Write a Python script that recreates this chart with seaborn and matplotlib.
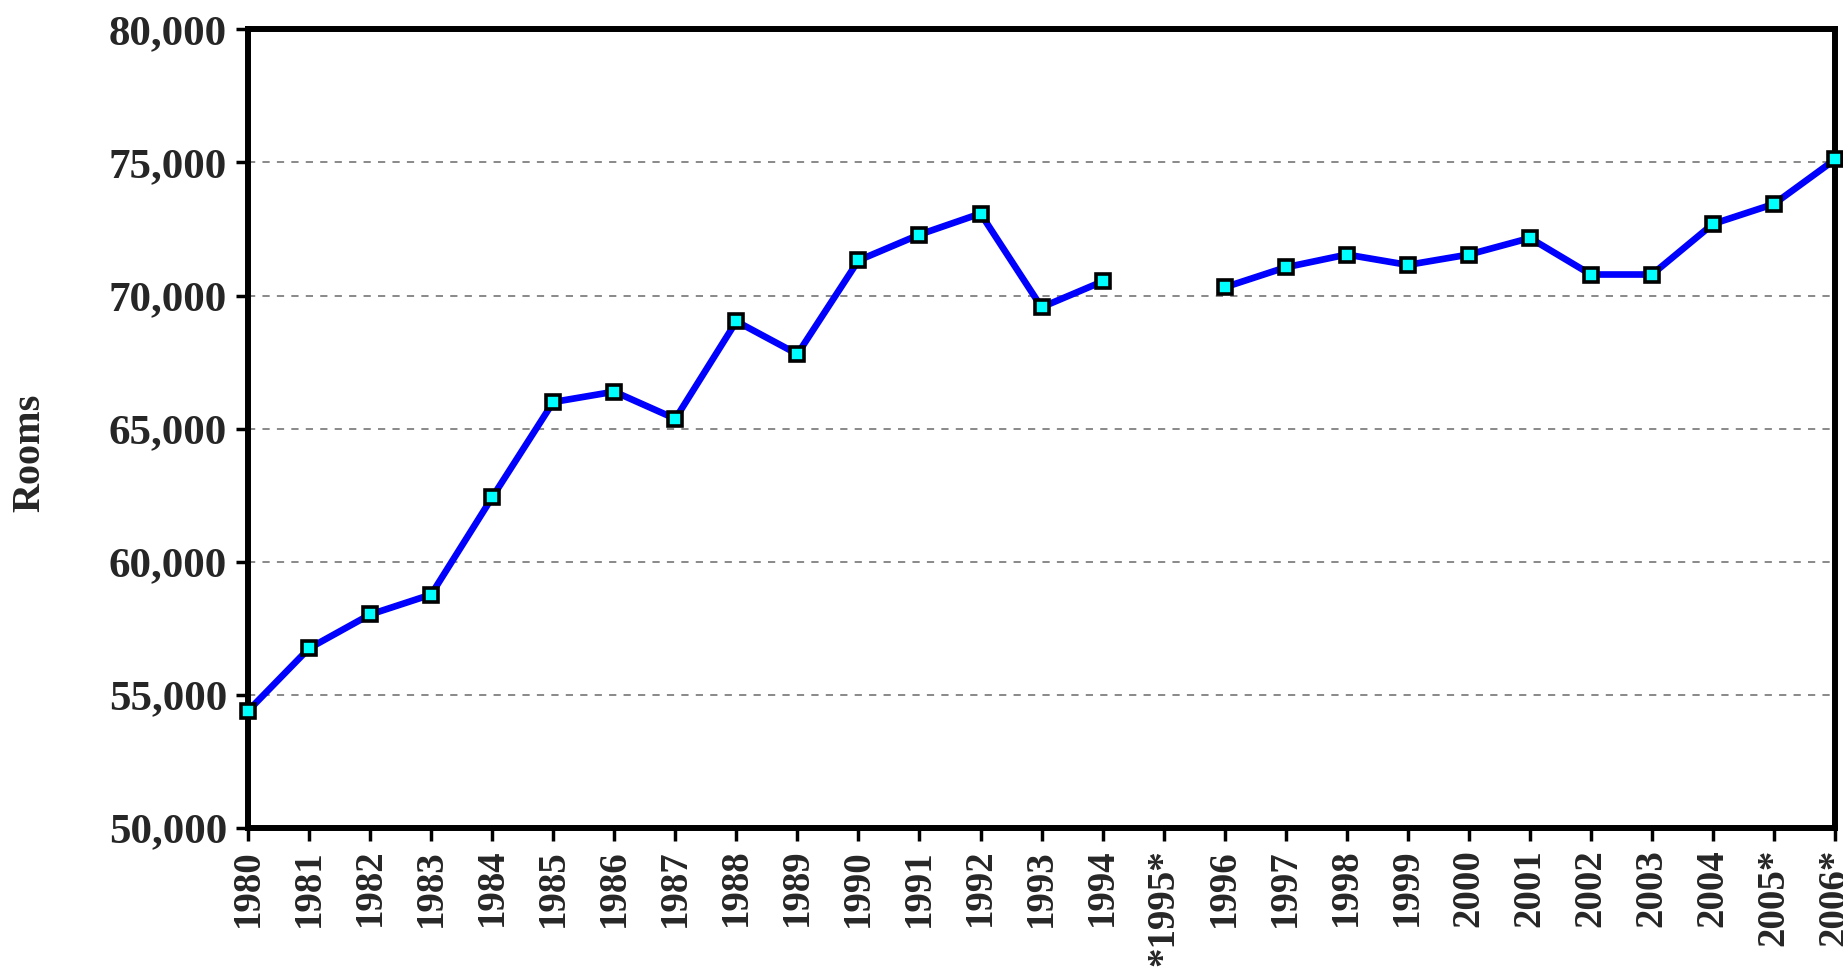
import numpy as np
import pandas as pd
import matplotlib
matplotlib.use("Agg")
import matplotlib.pyplot as plt
import seaborn as sns

years = list(range(1980, 2007))
tick_labels = ["1980", "1981", "1982", "1983", "1984", "1985", "1986", "1987", "1988",
               "1989", "1990", "1991", "1992", "1993", "1994", "*1995*", "1996", "1997",
               "1998", "1999", "2000", "2001", "2002", "2003", "2004", "2005*", "2006*"]
rooms = [54400, 56750, 58020, 58770, 62420, 66000, 66390, 65370, 69030, 67800,
         71320, 72290, 73080, 69560, 70530, np.nan, 70310, 71060, 71540, 71150,
         71540, 72160, 70790, 70790, 72690, 73440, 75110]
y_ticks = [50000, 55000, 60000, 65000, 70000, 75000, 80000]

sns.set_style("white")
plt.rcParams['font.family'] = ['Liberation Serif', 'DejaVu Serif']
plt.rcParams['font.weight'] = 'bold'

df = pd.DataFrame({"year": years, "rooms": rooms})
df["seg"] = np.cumsum(df["rooms"].isna().astype(int))
df = df.dropna()

fig = plt.figure(figsize=(18.43, 9.77), dpi=100)
ax = fig.add_axes([0.1346, 0.1525, 0.8611, 0.8175])

sns.lineplot(data=df, x="year", y="rooms", units="seg", estimator=None,
             color="#0000FF", linewidth=4.8, marker="s", markersize=10,
             markerfacecolor="#00FFFF", markeredgecolor="black", markeredgewidth=2.6,
             ax=ax, clip_on=False, zorder=5)

ax.set_xlim(1980, 2006)
ax.set_ylim(50000, 80000)
ax.set_yticks(y_ticks)
ax.set_yticklabels([f"{v:,}" for v in y_ticks], fontsize=31, fontweight='bold')
ax.set_xticks(years)
ax.set_xticklabels(tick_labels, rotation=90, fontsize=28, fontweight='bold')
ax.set_xlabel("")
ax.set_ylabel("Rooms", fontsize=29, fontweight='bold')
ax.yaxis.set_label_coords(-0.126, 0.47)

for v in y_ticks[1:-1]:
    ax.axhline(v, color="#808080", linestyle=(0, (4, 4)), linewidth=1.3, zorder=1)

for s in ax.spines.values():
    s.set_visible(True)
    s.set_color("black")
    s.set_linewidth(4.3)

ax.tick_params(axis='both', which='major', direction='out', length=9, width=2.5,
               color='black', bottom=True, left=True, pad=6)

fig.savefig("out.png", dpi=100)
